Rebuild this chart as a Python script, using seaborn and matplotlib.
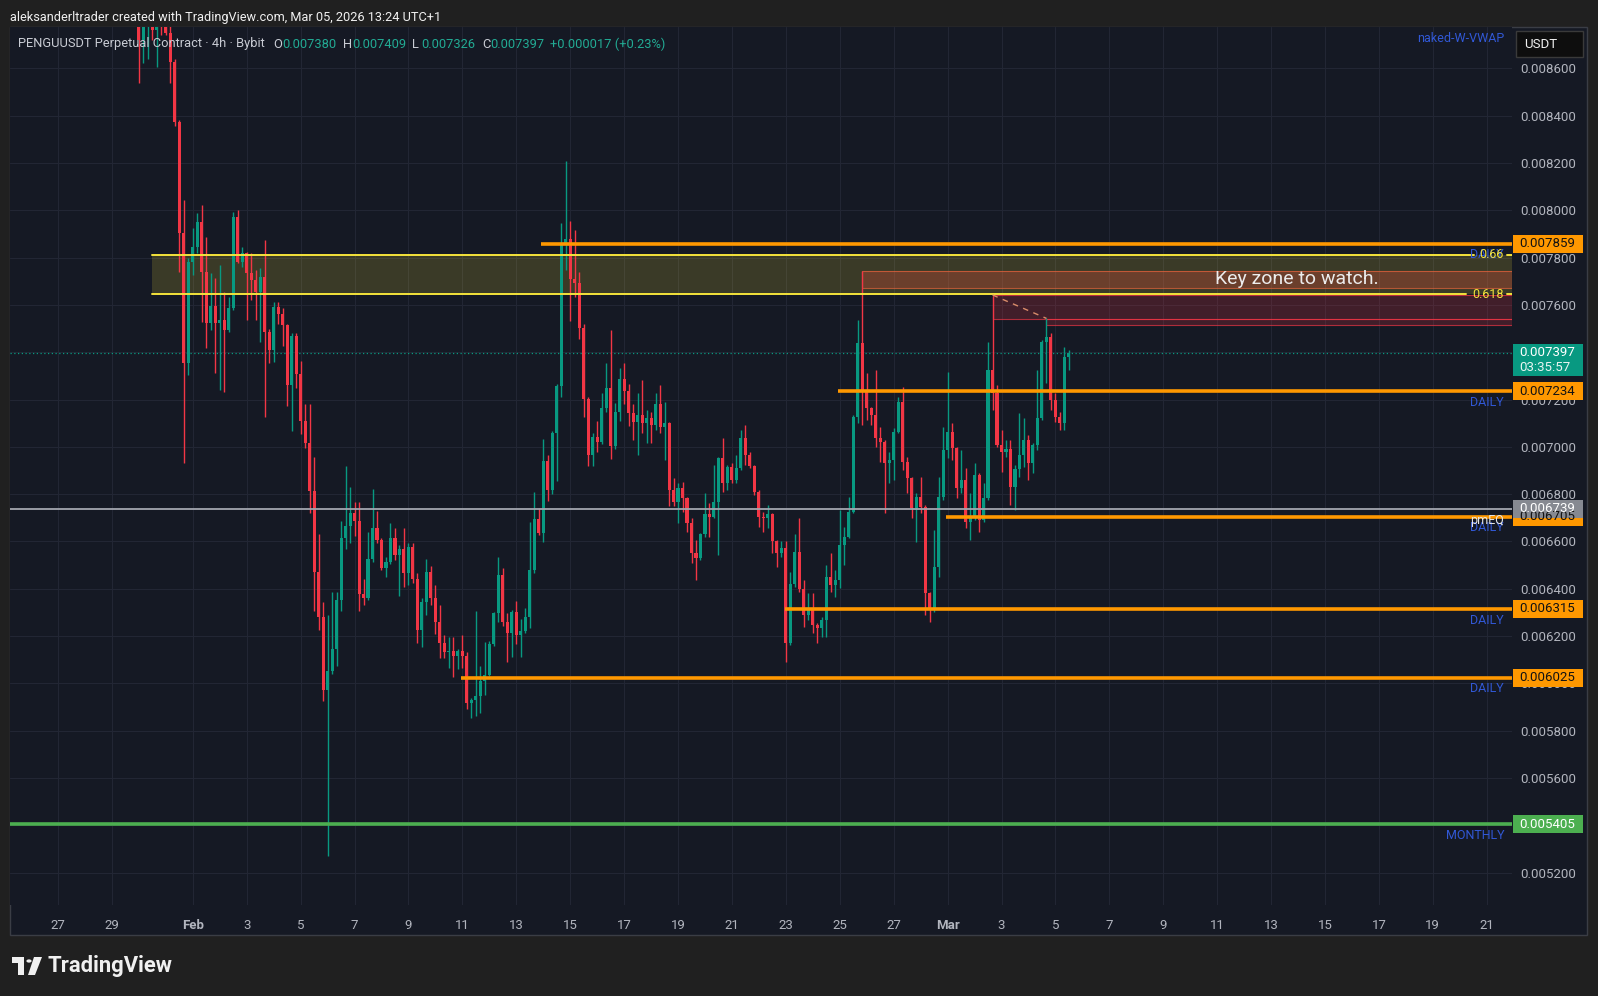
import numpy as np
import pandas as pd
import seaborn as sns
import matplotlib
matplotlib.use("Agg")
import matplotlib.pyplot as plt
import matplotlib.dates as mdates
from matplotlib.patches import Rectangle, Circle, Polygon
from matplotlib.transforms import blended_transform_factory

# 4h candles of PENGUUSDT, prices stored as price * 1e6
start_time = "2026-01-30 00:00"
first_open = 8850
closes = [
    8720, 8800, 8840, 8760, 8820, 8780, 8750, 8628, 8374, 7903,
    7353, 7783, 7846, 7952, 7740, 7525, 7595, 7525, 7535, 7494,
    7586, 7973, 7783, 7818, 7734, 7705, 7656, 7719, 7487, 7411,
    7592, 7560, 7514, 7260, 7470, 7308, 7109, 7018, 6815, 6473,
    6282, 5972, 6052, 6147, 6354, 6616, 6664, 6719, 6687, 6377,
    6362, 6528, 6656, 6608, 6489, 6513, 6616, 6544, 6568, 6465,
    6576, 6441, 6226, 6346, 6473, 6362, 6258, 6171, 6131, 6139,
    6115, 6139, 6115, 5916, 5932, 5948, 6012, 6035, 6166, 6297,
    6458, 6258, 6212, 6304, 6205, 6220, 6281, 6481, 6696, 6635,
    6942, 6819, 7057, 7257, 7863, 7880, 7710, 7694, 7502, 7203,
    6965, 7042, 7019, 7164, 7249, 7003, 7149, 7287, 7234, 7141,
    7103, 7134, 7100, 7120, 7093, 7182, 7086, 7100, 6818, 6769,
    6825, 6783, 6677, 6550, 6529, 6632, 6715, 6705, 6769, 6952,
    6846, 6914, 6860, 6910, 7036, 6966, 6919, 6811, 6705, 6701,
    6715, 6601, 6550, 6571, 6170, 6421, 6557, 6398, 6290, 6311,
    6247, 6233, 6268, 6451, 6416, 6437, 6585, 6620, 6726, 7128,
    7437, 7240, 7163, 7135, 7036, 7022, 6930, 6944, 7064, 7191,
    6937, 6867, 6740, 6789, 6747, 6381, 6310, 6493, 6789, 6987,
    7064, 6994, 6825, 6862, 6684, 6698, 6881, 6691, 6782, 7325,
    7226, 7008, 6979, 6993, 6831, 6905, 6965, 7029, 6930, 7008,
    7120, 7444, 7465, 7198, 7127, 7099, 7380, 7397]
highs = [
    8950, 8850, 8880, 8880, 8870, 8830, 8830, 8800, 8640, 8380,
    8043, 7800, 7924, 7987, 8022, 7888, 7734, 7712, 7769, 7656,
    7635, 7994, 8000, 7846, 7825, 7820, 7748, 7755, 7874, 7500,
    7614, 7614, 7586, 7520, 7482, 7482, 7363, 7180, 7180, 6958,
    6632, 6346, 6290, 6385, 6385, 6687, 6918, 6830, 6767, 6767,
    6441, 6640, 6823, 6727, 6616, 6536, 6679, 6656, 6584, 6656,
    6592, 6592, 6465, 6362, 6528, 6497, 6417, 6330, 6203, 6195,
    6195, 6147, 6203, 6131, 5940, 6306, 6074, 6174, 6181, 6304,
    6535, 6489, 6297, 6310, 6350, 6274, 6320, 6681, 6811, 6742,
    7034, 6965, 7065, 7264, 7948, 8209, 7955, 7917, 7740, 7518,
    7210, 7057, 7111, 7226, 7356, 7495, 7187, 7333, 7356, 7264,
    7180, 7226, 7283, 7156, 7149, 7227, 7262, 7191, 7107, 6867,
    6846, 6853, 6790, 6698, 6607, 6635, 6804, 6762, 6924, 6959,
    7036, 6924, 6931, 6966, 7072, 7093, 6980, 6924, 6818, 6726,
    6755, 6719, 6607, 6600, 6600, 6473, 6632, 6698, 6438, 6381,
    6381, 6254, 6282, 6500, 6550, 6479, 6733, 6663, 6789, 7135,
    7536, 7745, 7311, 7170, 7325, 7085, 7029, 6980, 7078, 7212,
    7254, 6958, 6874, 6803, 6874, 6754, 6388, 6648, 6874, 7085,
    7318, 7099, 7001, 6986, 6909, 6803, 6933, 6888, 6846, 7444,
    7637, 7261, 7071, 7029, 7029, 6923, 7141, 7120, 7050, 7015,
    7325, 7451, 7543, 7480, 7226, 7148, 7423, 7409]
lows = [
    8537, 8621, 8640, 8720, 8607, 8741, 8740, 8537, 8356, 7740,
    6930, 7304, 7726, 7820, 7529, 7417, 7494, 7311, 7240, 7233,
    7487, 7580, 7775, 7760, 7536, 7621, 7536, 7444, 7127, 7353,
    7360, 7520, 7427, 7172, 7069, 7250, 7053, 6997, 6719, 6306,
    6226, 5924, 5272, 6040, 6075, 6306, 6568, 6592, 6624, 6306,
    6330, 6354, 6513, 6592, 6481, 6449, 6505, 6520, 6369, 6409,
    6417, 6425, 6171, 6155, 6290, 6330, 6210, 6107, 6107, 6067,
    6028, 6059, 6067, 5892, 5853, 5861, 5874, 5951, 6030, 6158,
    6258, 6243, 6089, 6112, 6166, 6112, 6212, 6235, 6466, 6627,
    6596, 6773, 6800, 6857, 7210, 7748, 7533, 7633, 7456, 7126,
    6919, 6919, 6980, 7011, 7149, 6949, 6990, 7111, 7180, 7088,
    7029, 6966, 7058, 7015, 7015, 7072, 7058, 6945, 6748, 6748,
    6677, 6726, 6642, 6508, 6438, 6522, 6621, 6621, 6700, 6543,
    6811, 6818, 6846, 6846, 6903, 6924, 6910, 6797, 6663, 6642,
    6656, 6550, 6494, 6536, 6092, 6163, 6409, 6388, 6240, 6269,
    6212, 6170, 6198, 6198, 6388, 6367, 6402, 6500, 6613, 6719,
    7099, 7092, 7113, 7092, 7001, 6937, 6719, 6846, 6860, 7057,
    6902, 6804, 6698, 6599, 6719, 6289, 6261, 6303, 6451, 6775,
    6951, 6944, 6782, 6803, 6655, 6606, 6691, 6641, 6684, 6775,
    7155, 7000, 6895, 6958, 6754, 6733, 6874, 6916, 6860, 6888,
    6986, 7113, 7268, 7155, 7106, 7071, 7071, 7326]

# drawn levels
daily_levels = [7859, 7234, 6705, 6315, 6025]
daily_starts = ["2026-02-13 22:00", "2026-02-24 22:00", "2026-02-28 23:00",
                "2026-02-22 23:00", "2026-02-10 23:00"]
monthly_level = 5405
pmeq_level = 6739
fib_levels = [7811, 7644]
fib_labels = ["0.66", "0.618"]
fib_start = "2026-01-30 12:00"
last_price = 7397
countdown = "03:35:57"
key_zone = (7670, 7745)
key_zone_start = "2026-02-25 20:00"
red_zone = (7540, 7642)
red_zone_start = "2026-03-02 16:00"
red_zone2 = (7515, 7540)
red_zone2_start = "2026-03-04 16:00"

price_ticks = list(range(5200, 8601, 200))
day_ticks = ["2026-01-27", "2026-01-29", "2026-02-01", "2026-02-03", "2026-02-05",
             "2026-02-07", "2026-02-09", "2026-02-11", "2026-02-13", "2026-02-15",
             "2026-02-17", "2026-02-19", "2026-02-21", "2026-02-23", "2026-02-25",
             "2026-02-27", "2026-03-01", "2026-03-03", "2026-03-05", "2026-03-07",
             "2026-03-09", "2026-03-11", "2026-03-13", "2026-03-15", "2026-03-17",
             "2026-03-19", "2026-03-21"]
day_labels = ["27", "29", "Feb", "3", "5", "7", "9", "11", "13", "15", "17", "19",
              "21", "23", "25", "27", "Mar", "3", "5", "7", "9", "11", "13", "15",
              "17", "19", "21"]

GREEN = "#089981"
RED = "#f23645"
ORANGE = "#ff9800"
PANEL = "#151924"
OUTER = "#202020"
GRID = "#222634"
TXT = "#b2b5be"
BLUE = "#3158d6"

sns.set_theme(style="dark")
plt.rcParams["font.family"] = ["Roboto", "DejaVu Sans"]

W, H = 1598, 996
fig = plt.figure(figsize=(W / 100, H / 100), dpi=100)
fig.patch.set_facecolor(OUTER)


def fx(px):
    return px / W


def fy(py):
    return 1 - py / H


# chart panel
fig.add_artist(Rectangle((fx(10), fy(935)), fx(1587) - fx(10), fy(27) - fy(935),
                         transform=fig.transFigure, facecolor=PANEL,
                         edgecolor="#3a3d45", lw=1, zorder=0))

ax = fig.add_axes([fx(10), fy(905), fx(1512) - fx(10), fy(27) - fy(905)])
ax.set_facecolor(PANEL)
for s in ax.spines.values():
    s.set_visible(False)

x0 = mdates.date2num(pd.Timestamp("2026-01-25 05:15"))
x1 = mdates.date2num(pd.Timestamp("2026-03-21 22:30"))
ax.set_xlim(x0, x1)
ax.set_ylim(0.0050636, 0.0087746)

df = pd.DataFrame({
    "time": pd.date_range(start_time, periods=len(closes), freq="4h"),
    "close": np.array(closes) / 1e6,
    "high": np.array(highs) / 1e6,
    "low": np.array(lows) / 1e6,
})
df["open"] = df["close"].shift(1).fillna(first_open / 1e6)
x = mdates.date2num(df["time"])
up = df["close"] >= df["open"]
cols = np.where(up, GREEN, RED)
ax.vlines(x, df["low"], df["high"], colors=cols, lw=1.0, zorder=3)
body = (df["close"] - df["open"]).abs().clip(lower=0.000004)
ax.bar(x, body, bottom=np.minimum(df["open"], df["close"]), width=4 / 24 * 0.68,
       color=cols, linewidth=0, zorder=3)


def axfrac_to_x(f):
    return x0 + f * (x1 - x0)


trans = blended_transform_factory(ax.transAxes, ax.transData)

# fib band
fs = mdates.date2num(pd.Timestamp(fib_start))
ax.fill_between([fs, x1], fib_levels[1] / 1e6, fib_levels[0] / 1e6,
                color="#ffeb3b", alpha=0.16, lw=0, zorder=1)
fib_ends = [0.9747, 0.9694]
for lv, lab, fe in zip(fib_levels, fib_labels, fib_ends):
    ax.plot([fs, axfrac_to_x(fe)], [lv / 1e6] * 2, color="#f5e33b", lw=1.4, zorder=4)
    ax.plot([axfrac_to_x(0.9967), x1], [lv / 1e6] * 2, color="#f5e33b", lw=1.4, zorder=4)

# zones
ks = mdates.date2num(pd.Timestamp(key_zone_start))
ax.add_patch(Rectangle((ks, key_zone[0] / 1e6), x1 - ks, (key_zone[1] - key_zone[0]) / 1e6,
                       facecolor="#f0503a", alpha=0.27, edgecolor="none", zorder=2))
ax.add_patch(Rectangle((ks, key_zone[0] / 1e6), x1 - ks, (key_zone[1] - key_zone[0]) / 1e6,
                       facecolor="none", edgecolor="#e8643c", lw=0.8, alpha=0.7, zorder=2))
rs = mdates.date2num(pd.Timestamp(red_zone_start))
rs2 = mdates.date2num(pd.Timestamp(red_zone2_start))
for start, zone in [(rs, red_zone), (rs2, red_zone2)]:
    ax.add_patch(Rectangle((start, zone[0] / 1e6), x1 - start, (zone[1] - zone[0]) / 1e6,
                           facecolor=RED, alpha=0.2, edgecolor="none", zorder=2))
    ax.add_patch(Rectangle((start, zone[0] / 1e6), x1 - start, (zone[1] - zone[0]) / 1e6,
                           facecolor="none", edgecolor=RED, lw=0.8, alpha=0.7, zorder=2))
ax.plot([rs, rs2], [red_zone[1] / 1e6, 7543 / 1e6], color="#d98c6a",
        ls=(0, (4, 4)), lw=1, zorder=4)
ax.text(mdates.date2num(pd.Timestamp("2026-03-13 23:00")), 0.007708, "Key zone to watch.",
        color="#ececec", fontsize=14, ha="center", va="center", zorder=6)

# horizontal levels
ax.axhline(last_price / 1e6, color=GREEN, ls=(0, (1, 2)), lw=0.9, zorder=2)
ax.axhline(pmeq_level / 1e6, color="#a3a6af", lw=1.3, zorder=4)
ax.axhline(monthly_level / 1e6, color="#4caf50", lw=2.6, zorder=4)
for lv, st in zip(daily_levels, daily_starts):
    ax.hlines(lv / 1e6, mdates.date2num(pd.Timestamp(st)), x1, color=ORANGE,
              lw=2.6, zorder=4)
    ax.annotate("DAILY", xy=(0.9947, lv / 1e6), xycoords=trans, xytext=(0, -8),
                textcoords="offset points", ha="right", va="center", color=BLUE,
                fontsize=9, zorder=5)
ax.annotate("MONTHLY", xy=(0.9947, monthly_level / 1e6), xycoords=trans, xytext=(0, -8),
            textcoords="offset points", ha="right", va="center", color=BLUE, fontsize=9)
ax.annotate("pmEQ", xy=(0.9947, pmeq_level / 1e6), xycoords=trans, xytext=(0, -8.5),
            textcoords="offset points", ha="right", va="center", color="#e6e6e6",
            fontsize=9, zorder=6)
for lv, lab in zip(fib_levels, fib_labels):
    ax.text(0.9947, lv / 1e6, lab, transform=trans, ha="right", va="center",
            color="#f5e33b", fontsize=9, zorder=6)

# axes and grid
ax.set_xticks(mdates.date2num(pd.to_datetime(day_ticks)))
ax.set_xticklabels(day_labels)
for t in ax.get_xticklabels():
    if t.get_text() in ("Feb", "Mar"):
        t.set_fontweight("bold")
        t.set_color("#d1d4dc")
ax.tick_params(axis="x", length=0, pad=10, labelcolor=TXT, labelsize=9.5)
ax.yaxis.tick_right()
ax.set_yticks(np.array(price_ticks) / 1e6)
ax.set_yticklabels([f"{p / 1e6:.6f}" for p in price_ticks])
ax.tick_params(axis="y", length=0, pad=6, labelcolor=TXT, labelsize=9.5)
ax.grid(True, color=GRID, lw=0.8)
ax.set_axisbelow(True)

# price labels on the axis
px_per_price = (905 - 27) / (0.0087746 - 0.0050636)
box_h = 18 / px_per_price
boxes = [(v, ORANGE, "#131313") for v in daily_levels]
boxes += [(pmeq_level, "#868991", "#ffffff"), (monthly_level, "#4caf50", "#ffffff")]
for v, fc, tc in boxes:
    ax.add_patch(Rectangle((1.0007, v / 1e6 - box_h / 2), 0.0466, box_h, transform=trans,
                           facecolor=fc, edgecolor="none", clip_on=False, zorder=7))
    ax.text(1.0047, v / 1e6, f"{v / 1e6:.6f}", transform=trans, ha="left", va="center",
            color=tc, fontsize=9.5, clip_on=False, zorder=8)
lp = last_price / 1e6
ax.add_patch(Rectangle((1.0007, lp - 23 / px_per_price), 0.0466, 32 / px_per_price,
                       transform=trans, facecolor=GREEN, edgecolor="none",
                       clip_on=False, zorder=7))
ax.text(1.0047, lp, f"{lp:.6f}", transform=trans, ha="left", va="center",
        color="#ffffff", fontsize=9.5, clip_on=False, zorder=8)
ax.text(1.0047, lp - 15 / px_per_price, countdown, transform=trans, ha="left",
        va="center", color="#e8f5f2", fontsize=9.5, clip_on=False, zorder=8)

# header, legend and overlays
fig.text(fx(10), fy(17), "aleksanderltrader created with TradingView.com, Mar 05, 2026 13:24 UTC+1",
         color="#f0f0f0", fontsize=9.2, va="center", ha="left")
legend = [("PENGUUSDT Perpetual Contract · 4h · Bybit", 18, "#c9ccd4"),
          ("O", 273, "#c9ccd4"), ("0.007380", 282, "#22ab94"),
          ("H", 343, "#c9ccd4"), ("0.007409", 352, "#22ab94"),
          ("L", 412, "#c9ccd4"), ("0.007326", 421, "#22ab94"),
          ("C", 482, "#c9ccd4"), ("0.007397", 490, "#22ab94"),
          ("+0.000017 (+0.23%)", 550, "#22ab94")]
for s, px, c in legend:
    fig.text(fx(px), fy(44), s, color=c, fontsize=9.3, va="center", ha="left", zorder=10)
fig.text(fx(1504), fy(38), "naked-W-VWAP", color=BLUE, fontsize=9, ha="right", va="center")
fig.add_artist(Rectangle((fx(1516), fy(57)), fx(1583) - fx(1516), fy(31) - fy(57),
                         transform=fig.transFigure, facecolor="#0e0e0e",
                         edgecolor="#3a3a3a", lw=1, zorder=5))
fig.text(fx(1524), fy(44), "USDT", color="#f0f0f0", fontsize=9.5, va="center", zorder=6)

# TradingView logo
logo = [Rectangle((fx(12), fy(963)), fx(24) - fx(12), fy(957) - fy(963)),
        Rectangle((fx(18), fy(975)), fx(24) - fx(18), fy(957) - fy(975)),
        Circle((fx(29), fy(961)), 2.6 / W),
        Polygon([(fx(34), fy(957)), (fx(42), fy(957)), (fx(35), fy(975)), (fx(28), fy(975))])]
for p in logo:
    p.set_transform(fig.transFigure)
    p.set_facecolor("#f0f0f0")
    p.set_edgecolor("none")
    fig.add_artist(p)
fig.text(fx(48), fy(966), "TradingView", color="#f0f0f0", fontsize=15.8,
         fontweight="bold", va="center", ha="left")

plt.savefig("out.png", dpi=100, facecolor=fig.get_facecolor())
plt.close()
